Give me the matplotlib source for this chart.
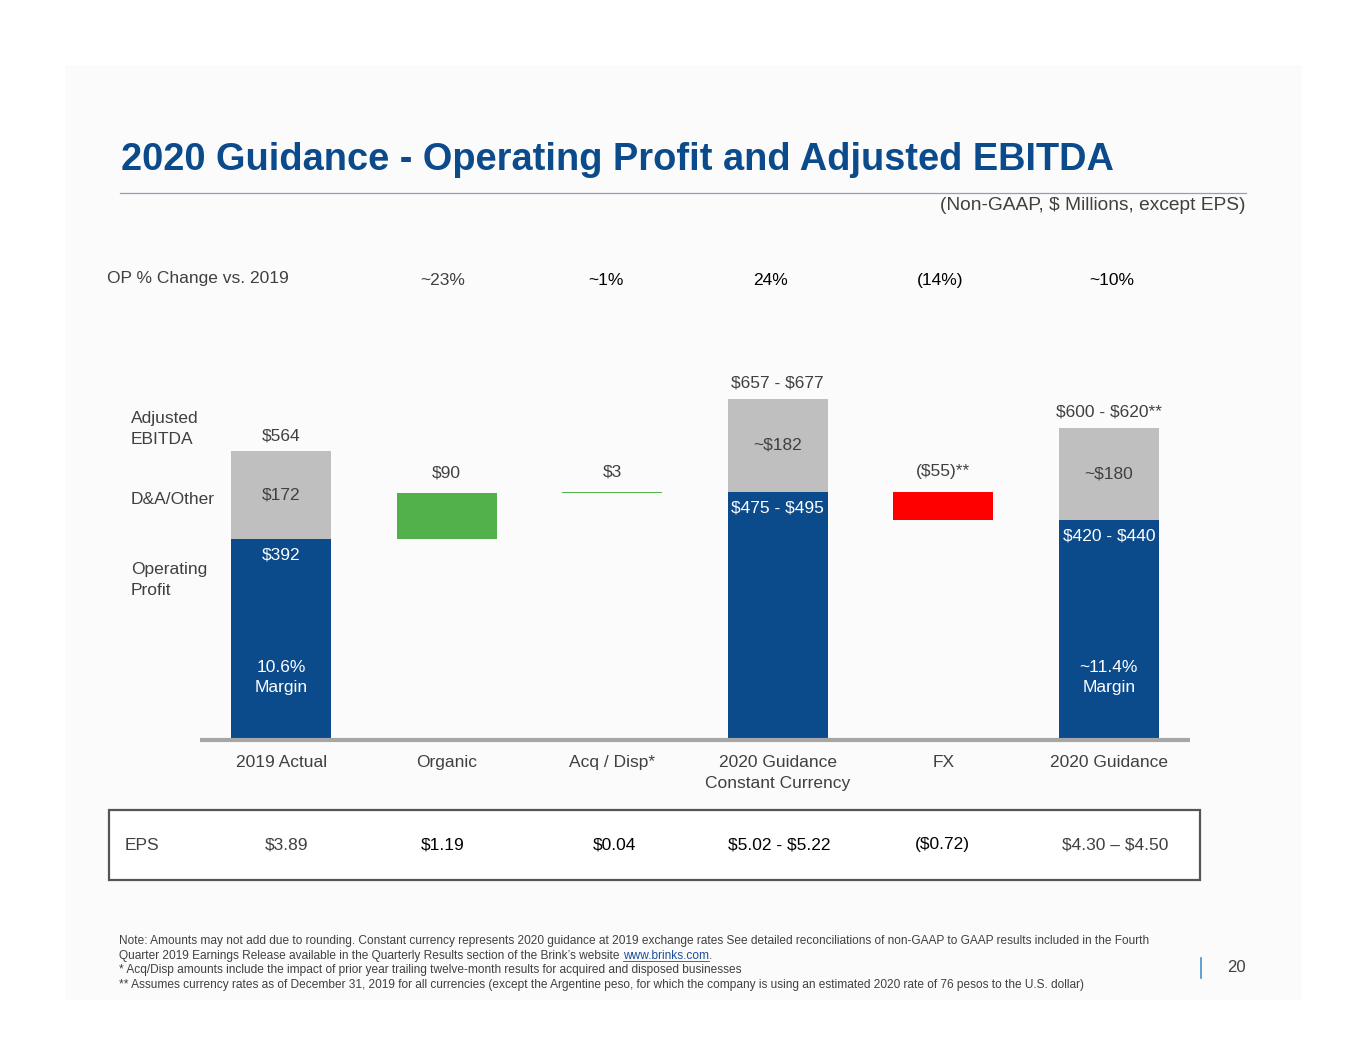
import matplotlib.pyplot as plt
from matplotlib.patches import Rectangle
from matplotlib.lines import Line2D

plt.rcParams['font.family'] = ['Liberation Sans', 'DejaVu Sans']
plt.rcParams['text.parse_math'] = False

# data
categories = ['2019 Actual', 'Organic', 'Acq / Disp*',
              '2020 Guidance\nConstant Currency', 'FX', '2020 Guidance']
op_change = ['~23%', '~1%', '24%', '(14%)', '~10%']
op_values = [392, 485, 430]          # totals: 2019, 2020 CC, 2020
da_values = [172, 182, 180]
total_idx = [0, 3, 5]
op_labels = ['$392', '$475 - $495', '$420 - $440']
da_labels = ['$172', '~$182', '~$180']
ebitda_labels = ['$564', '$657 - $677', '$600 - $620**']
bridge_idx = [1, 2, 4]
bridge_bottom = [392, 482, 430]
bridge_height = [90, 3, 55]
bridge_labels = ['$90', '$3', '($55)**']
eps_values = ['$3.89', '$1.19', '$0.04', '$5.02 - $5.22', '($0.72)', '$4.30 \u2013 $4.50']
margin_labels = {0: '10.6%\nMargin', 5: '~11.4%\nMargin'}

W, H = 1365, 1055
BLUE = '#0b4a8b'
GREY = '#bfbfbf'
GREEN = '#53b14b'
RED = '#ff0000'
TXT = '#404040'


def fx(x):
    return x / W


def fy(y):
    return 1 - y / H


fig = plt.figure(figsize=(W / 100, H / 100), dpi=100)
fig.patch.set_facecolor('white')
fig.patches.append(Rectangle((fx(65), fy(1000)), fx(1302) - fx(65), fy(65) - fy(1000),
                             transform=fig.transFigure, facecolor='#fbfbfb',
                             edgecolor='none', zorder=-5))

# title
fig.text(fx(121), fy(160), '2020 Guidance - Operating Profit and Adjusted EBITDA',
         fontsize=27.4, fontweight='bold', color=BLUE, va='center', ha='left')
fig.add_artist(Line2D([fx(120), fx(1246)], [fy(193), fy(193)], color='#8ea2b6', lw=0.9))
fig.text(fx(1245), fy(206), '(Non-GAAP, $ Millions, except EPS)', fontsize=13.8,
         color=TXT, ha='right', va='center')

# OP % change row
fig.text(fx(107), fy(278), 'OP % Change vs. 2019', fontsize=12.5, color=TXT, va='center')
pct_x = [443, 606, 771, 940, 1112]
pct_col = [TXT, 'black', 'black', 'black', 'black']
for x, s, c in zip(pct_x, op_change, pct_col):
    fig.text(fx(x), fy(280), s, fontsize=12.5, color=c, ha='center', va='center')

# bar axes
ax = fig.add_axes([fx(200), fy(740), fx(1190) - fx(200), (740 - 390) / H])
ax.set_xlim(-0.49, 5.49)
ax.set_ylim(0, 684)
ax.axis('off')
bw = 0.605

tx = [total_idx[i] for i in range(3)]
ax.bar(tx, op_values, width=bw, color=BLUE, zorder=2)
ax.bar(tx, da_values, width=bw, bottom=op_values, color=GREY, zorder=2)
ax.bar(bridge_idx, bridge_height, width=bw, bottom=bridge_bottom,
       color=[GREEN, GREEN, RED], zorder=2)
ax.add_line(Line2D([-0.49, 5.49], [0, 0], color='#a6a6a6', lw=3, zorder=3,
                   solid_capstyle='butt', clip_on=False))

for i, x in enumerate(tx):
    op, da = op_values[i], da_values[i]
    ax.annotate(ebitda_labels[i], (x, op + da), xytext=(0, 6), textcoords='offset points',
                ha='center', va='bottom', fontsize=12.5, color=TXT)
    ax.text(x, op + da / 2, da_labels[i], ha='center', va='center', fontsize=12.5, color=TXT)
    ax.annotate(op_labels[i], (x, op), xytext=(0, -6), textcoords='offset points',
                ha='center', va='top', fontsize=12.5, color='white')

for x, b, h, s in zip(bridge_idx, bridge_bottom, bridge_height, bridge_labels):
    ax.annotate(s, (x, b + h), xytext=(0, 9), textcoords='offset points',
                ha='center', va='bottom', fontsize=12.5, color=TXT)

for i, s in margin_labels.items():
    ax.text(i, 122, s, ha='center', va='center', fontsize=12.5, color='white',
            linespacing=1.45)

for i, s in enumerate(categories):
    ax.text(i, -30, s, ha='center', va='top', fontsize=12.5, color=TXT,
            linespacing=1.45)

# row labels
fig.text(fx(131), fy(429), 'Adjusted\nEBITDA', fontsize=12.5, color=TXT, va='center',
         linespacing=1.45)
fig.text(fx(131), fy(499), 'D&A/Other', fontsize=12.5, color=TXT, va='center')
fig.text(fx(131), fy(580), 'Operating\nProfit', fontsize=12.5, color=TXT, va='center',
         linespacing=1.45)

# EPS box
fig.patches.append(Rectangle((fx(109), fy(880)), fx(1200) - fx(109), fy(810) - fy(880),
                             transform=fig.transFigure, facecolor='white',
                             edgecolor='#555555', lw=1.6, zorder=1))
fig.text(fx(125), fy(845), 'EPS', fontsize=12.5, color=TXT, va='center')
eps_x = [287, 443, 614, 779, 942, 1115]
eps_col = [TXT, 'black', 'black', 'black', 'black', TXT]
for x, s, c in zip(eps_x, eps_values, eps_col):
    fig.text(fx(x), fy(845), s, fontsize=12.5, color=c, ha='center', va='center')

# footnotes
fs = 8.6
notes = [
    'Note: Amounts may not add due to rounding. Constant currency represents 2020 guidance at 2019 '
    'exchange rates See detailed reconciliations of non-GAAP to GAAP results included in the Fourth',
    None,
    '* Acq/Disp amounts include the impact of prior year trailing twelve-month results for acquired '
    'and disposed businesses',
    '** Assumes currency rates as of December 31, 2019 for all currencies (except the Argentine peso, '
    'for which the company is using an estimated 2020 rate of 76 pesos to the U.S. dollar)',
]
ny = [941, 956, 970, 985]
for y, s in zip(ny, notes):
    if s:
        fig.text(fx(119), fy(y), s, fontsize=fs, color=TXT, va='center')
t1 = fig.text(fx(119), fy(956), 'Quarter 2019 Earnings Release available in the Quarterly Results '
              'section of the Brink\u2019s website ', fontsize=fs, color=TXT, va='center')
fig.canvas.draw()
bb = t1.get_window_extent()
link = fig.text(bb.x1 / W, fy(956), 'www.brinks.com', fontsize=fs, color='#1f4e9c',
                va='center')
fig.canvas.draw()
lb = link.get_window_extent()
fig.add_artist(Line2D([lb.x0 / W, lb.x1 / W], [lb.y0 / H + 0.0012] * 2, color='#1f4e9c', lw=0.6))
fig.text(lb.x1 / W, fy(956), '.', fontsize=fs, color=TXT, va='center')

# page number
fig.add_artist(Line2D([fx(1201), fx(1201)], [fy(958), fy(978)], color='#4a90c8', lw=1.2))
fig.text(fx(1236), fy(968), '20', fontsize=12, color=TXT, ha='center', va='center')

fig.savefig('out.png', dpi=100)
